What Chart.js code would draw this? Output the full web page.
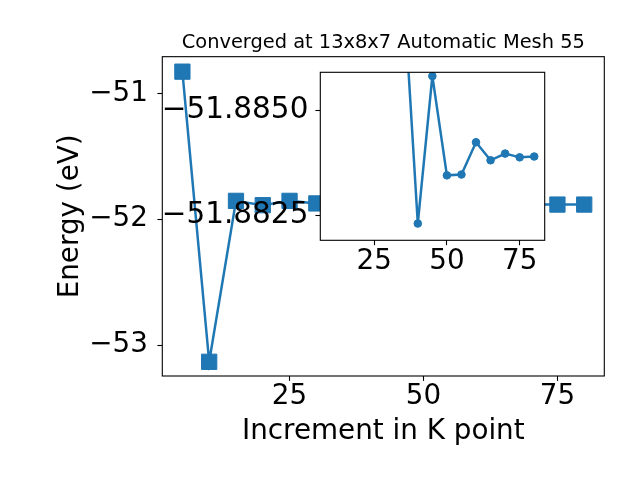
<!DOCTYPE html>
<html>
<head>
<meta charset="utf-8">
<script src="https://cdn.jsdelivr.net/npm/chart.js@4.4.0/dist/chart.umd.min.js"></script>
<style>
html, body { margin: 0; padding: 0; background: #fff; }
#wrap { position: relative; width: 640px; height: 480px; }
#wrap canvas { position: absolute; left: 0; top: 0; }
</style>
</head>
<body>
<div id="wrap">
  <canvas id="mainChart" width="640" height="480"></canvas>
  <canvas id="insetChart" width="640" height="480"></canvas>
</div>
<script>
// main curve: energy vs k point increment
const kPoints = [5, 10, 15, 20, 25, 30, 35, 40, 45, 50, 55, 60, 65, 70, 75, 80];
const energies = [-50.828, -53.133, -51.8545, -51.889, -51.8545, -51.875, -51.8880, -51.8823,
  -51.8858, -51.8835, -51.8835, -51.8842, -51.8838, -51.8840, -51.8839, -51.8839];

// zoomed inset
const insetKPoints = [35, 40, 45, 50, 55, 60, 65, 70, 75, 80];
const insetEnergies = [-51.8880, -51.88230, -51.88582, -51.88345, -51.88347, -51.88424,
  -51.88381, -51.88397, -51.88388, -51.88390];

const mainXTicks = [25, 50, 75];
const mainYTicks = [-53, -52, -51];
const insetXTicks = [25, 50, 75];
const insetYTicks = [-51.885, -51.8825];

const blue = "#1f77b4";
const tickFont = { size: 27.8, lineHeight: 1 };

Chart.defaults.font.family = "'DejaVu Sans', sans-serif";
Chart.defaults.color = "#000";
Chart.defaults.animation = false;

const fmt = (v, d) => (v < 0 ? "\u2212" : "") + Math.abs(v).toFixed(d);
const toPoints = (xs, ys) => xs.map((x, i) => ({ x: x, y: ys[i] }));
const fixTicks = (arr) => (scale) => { scale.ticks = arr.map(v => ({ value: v })); };

const framePlugin = {
  id: "frame",
  beforeDraw(chart, args, opts) {
    if (!opts.fill) return;
    const a = chart.chartArea;
    chart.ctx.save();
    chart.ctx.fillStyle = opts.fill;
    chart.ctx.fillRect(a.left, a.top, a.right - a.left, a.bottom - a.top);
    chart.ctx.restore();
  },
  afterDatasetsDraw(chart) {
    const a = chart.chartArea;
    const ctx = chart.ctx;
    ctx.save();
    ctx.strokeStyle = "#000";
    ctx.lineWidth = 1.1;
    ctx.strokeRect(a.left, a.top, a.right - a.left, a.bottom - a.top);
    ctx.restore();
  }
};

function tickGrid() {
  return { drawOnChartArea: false, drawTicks: true, tickLength: 4.9, tickColor: "#000", tickWidth: 1.1 };
}

new Chart(document.getElementById("mainChart"), {
  type: "line",
  data: {
    datasets: [{
      data: toPoints(kPoints, energies),
      borderColor: blue,
      backgroundColor: blue,
      borderWidth: 2.5,
      tension: 0,
      pointStyle: "rect",
      pointRadius: 10.8,
      pointBorderWidth: 1,
      pointBackgroundColor: blue,
      pointBorderColor: blue
    }]
  },
  options: {
    responsive: false,
    layout: { padding: { left: 0, right: 35.7, top: 0, bottom: 0 } },
    plugins: {
      legend: { display: false },
      tooltip: { enabled: false },
      title: {
        display: true,
        text: "Converged at 13x8x7 Automatic Mesh 55",
        fullSize: false,
        font: { size: 19.4, weight: "normal" },
        padding: { top: 30.9, bottom: 2.5 }
      },
      frame: {}
    },
    scales: {
      x: {
        type: "linear",
        min: 1.25,
        max: 83.75,
        afterBuildTicks: fixTicks(mainXTicks),
        afterFit: (s) => { s.height = 104; },
        grid: tickGrid(),
        border: { display: false },
        ticks: { font: tickFont, padding: 2.1, maxRotation: 0, callback: v => fmt(v, 0) },
        title: { display: true, text: "Increment in K point", font: { size: 27.8 }, padding: { top: 0, bottom: 32 } }
      },
      y: {
        type: "linear",
        min: -53.246,
        max: -50.709,
        afterBuildTicks: fixTicks(mainYTicks),
        afterFit: (s) => { s.width = 162.3; },
        grid: tickGrid(),
        border: { display: false },
        ticks: { font: tickFont, padding: 9.5, callback: v => fmt(v, 0) },
        title: { display: true, text: "Energy (eV)", font: { size: 27.8 }, padding: { top: 54.3, bottom: 0 } }
      }
    }
  },
  plugins: [framePlugin]
});

new Chart(document.getElementById("insetChart"), {
  type: "line",
  data: {
    datasets: [{
      data: toPoints(insetKPoints, insetEnergies),
      borderColor: blue,
      backgroundColor: blue,
      borderWidth: 2.5,
      tension: 0,
      pointStyle: "circle",
      pointRadius: 3.8,
      pointBorderWidth: 1,
      pointBackgroundColor: blue,
      pointBorderColor: blue
    }]
  },
  options: {
    responsive: false,
    layout: { padding: { left: 0, right: 95.3, top: 72.3, bottom: 0 } },
    plugins: {
      legend: { display: false },
      tooltip: { enabled: false },
      frame: { fill: "#fff" }
    },
    scales: {
      x: {
        type: "linear",
        min: 6.5,
        max: 83.6,
        afterBuildTicks: fixTicks(insetXTicks),
        afterFit: (s) => { s.height = 239.7; },
        grid: tickGrid(),
        border: { display: false },
        ticks: { font: tickFont, padding: 2.8, maxRotation: 0, callback: v => fmt(v, 0) }
      },
      y: {
        type: "linear",
        reverse: true,
        min: -51.88591,
        max: -51.88190,
        afterBuildTicks: fixTicks(insetYTicks),
        afterFit: (s) => { s.width = 320.3; },
        grid: tickGrid(),
        border: { display: false },
        ticks: { font: { size: 29.5, lineHeight: 1 }, padding: 7, callback: v => fmt(v, 4) }
      }
    }
  },
  plugins: [framePlugin]
});
</script>
</body>
</html>
